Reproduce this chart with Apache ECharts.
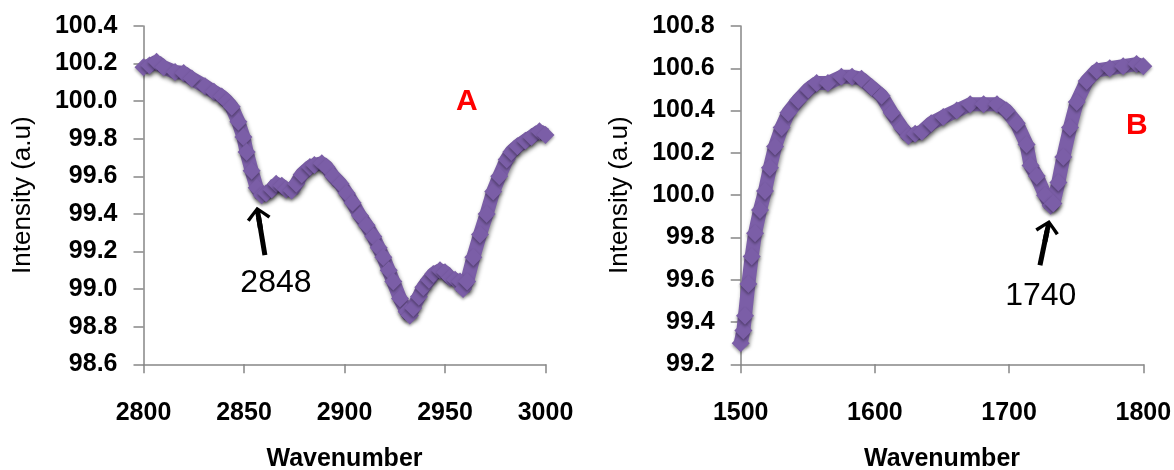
<!DOCTYPE html>
<html>
<head>
<meta charset="utf-8">
<script src="https://cdn.jsdelivr.net/npm/echarts@6/dist/echarts.min.js"></script>
<style>
  html, body { margin: 0; padding: 0; background: #fff; }
  #chart { width: 1174px; height: 470px; }
</style>
</head>
<body>
<div id="chart"></div>
<script>
// ---- Panel A (C-H stretch region) ----
const leftWavenumber = [2800, 2803, 2806.5, 2810, 2815.7, 2820, 2824, 2830.6, 2835, 2838.9, 2841.5, 2843.9,
  2847.2, 2849.7, 2851.3, 2853.8, 2856.3, 2858.8, 2861, 2863.8, 2866, 2868.8, 2871, 2873.7, 2876, 2878.7,
  2882.8, 2885, 2888.7, 2891, 2894.4, 2898, 2901.1, 2904, 2907.7, 2911, 2914.3, 2917, 2919.3, 2922, 2924.3,
  2927.6, 2930.9, 2932.5, 2934.2, 2937, 2939.2, 2942, 2944.2, 2947.5, 2950, 2952.5, 2955, 2957.5, 2959,
  2961, 2964.1, 2967.4, 2970.7, 2974, 2977, 2980.7, 2983, 2986, 2990, 2993, 2997, 3000];
const leftIntensity = [100.18, 100.19, 100.21, 100.18, 100.155, 100.15, 100.12, 100.08, 100.05, 100.025, 100.0, 99.97,
  99.89, 99.81, 99.73, 99.63, 99.54, 99.50, 99.51, 99.53, 99.56, 99.55, 99.53, 99.525, 99.56, 99.61,
  99.65, 99.66, 99.67, 99.65, 99.60, 99.56, 99.51, 99.46, 99.39, 99.34, 99.28, 99.22, 99.17, 99.10, 99.04,
  98.95, 98.88, 98.86, 98.90, 98.96, 99.01, 99.05, 99.08, 99.10, 99.09, 99.06, 99.05, 99.04, 99.00,
  99.04, 99.17, 99.29, 99.40, 99.52, 99.60, 99.69, 99.73, 99.76, 99.79, 99.81, 99.84, 99.82];

// ---- Panel B (C=O region) ----
const rightWavenumber = [1500, 1502, 1503.2, 1505.7, 1508.2, 1510.7, 1514.4, 1518.1, 1521.8, 1525.6, 1530.5,
  1535.5, 1542.9, 1550.4, 1556.6, 1565, 1575, 1583, 1590, 1597.6, 1605, 1612.5, 1620, 1625, 1630, 1635,
  1642, 1651, 1661, 1671, 1681, 1691, 1698, 1705.7, 1713, 1716, 1720.6, 1726.8, 1731, 1733, 1736.7,
  1740.4, 1745.4, 1750.4, 1757.8, 1765.3, 1775, 1785, 1795, 1800];
const rightIntensity = [99.30, 99.36, 99.43, 99.58, 99.71, 99.82, 99.93, 100.02, 100.13, 100.23, 100.32,
  100.39, 100.45, 100.50, 100.53, 100.53, 100.56, 100.56, 100.55, 100.51, 100.47, 100.39, 100.32, 100.28, 100.29, 100.30,
  100.34, 100.37, 100.40, 100.43, 100.43, 100.43, 100.40, 100.34, 100.24, 100.14, 100.09, 100.00, 99.95, 99.96, 100.06,
  100.18, 100.32, 100.44, 100.54, 100.59, 100.60, 100.61, 100.62, 100.61];

// axis ranges [min, max, interval]
const leftXRange = [2800, 3000, 50];
const leftYRange = [98.6, 100.4, 0.2];
const rightXRange = [1500, 1800, 100];
const rightYRange = [99.2, 100.8, 0.2];

// annotations
const peakLabels = ['2848', '1740'];
const panelLetters = ['A', 'B'];
const xAxisTitle = 'Wavenumber';
const yAxisTitle = 'Intensity (a.u)';

const PURPLE = '#7b5ea7';
const AXIS = '#868686';
const FONT = '"Liberation Sans", Arial, sans-serif';
const ARROW = 'path://M0,0 L12,11 L9.5,13.5 L2.5,6.5 L2.5,22 L-2.5,22 L-2.5,6.5 L-9.5,13.5 L-12,11 Z';

function pairs(xs, ys) { return xs.map((x, i) => [x, ys[i]]); }

function xAxis(idx, r) {
  return {
    type: 'value', gridIndex: idx, min: r[0], max: r[1], interval: r[2],
    name: xAxisTitle, nameLocation: 'middle', nameGap: 82,
    nameTextStyle: { fontFamily: FONT, fontWeight: 'bold', fontSize: 25, color: '#000' },
    axisLine: { show: true, onZero: false, lineStyle: { color: AXIS, width: 1.5 } },
    axisTick: { show: true, length: 9, inside: false, lineStyle: { color: AXIS, width: 1.5 } },
    splitLine: { show: false },
    axisLabel: { fontFamily: FONT, fontWeight: 'bold', fontSize: 25, color: '#000', margin: 36,
      formatter: v => String(Math.round(v)) }
  };
}
function yAxis(idx, r) {
  return {
    type: 'value', gridIndex: idx, min: r[0], max: r[1], interval: r[2],
    name: yAxisTitle, nameLocation: 'middle', nameGap: 108, nameRotate: 90,
    nameTextStyle: { fontFamily: FONT, fontSize: 26, color: '#000' },
    axisLine: { show: true, onZero: false, lineStyle: { color: AXIS, width: 1.5 } },
    axisTick: { show: true, length: 10, inside: false, lineStyle: { color: AXIS, width: 1.5 } },
    splitLine: { show: false },
    axisLabel: { fontFamily: FONT, fontWeight: 'bold', fontSize: 25, color: '#000', margin: 26,
      formatter: v => v.toFixed(1) }
  };
}
function spectrum(idx, data, arrow, peakText, letter) {
  return {
    type: 'line', xAxisIndex: idx, yAxisIndex: idx, data: data,
    symbol: 'diamond', symbolSize: 18, showSymbol: true,
    lineStyle: { color: PURPLE, width: 14, shadowColor: 'rgba(0,0,0,0.45)', shadowBlur: 4, shadowOffsetX: 1, shadowOffsetY: 3 },
    itemStyle: { color: PURPLE, shadowColor: 'rgba(0,0,0,0.35)', shadowBlur: 3, shadowOffsetY: 2 },
    z: 2,
    markLine: {
      silent: true, animation: false,
      symbol: ['none', ARROW], symbolSize: [24, 22],
      lineStyle: { color: '#000', width: 5, type: 'solid' },
      label: { show: false },
      data: [[{ coord: arrow[0] }, { coord: arrow[1] }]]
    },
    markPoint: {
      silent: true, animation: false,
      symbol: 'circle', symbolSize: 1, itemStyle: { color: 'rgba(0,0,0,0)' },
      data: [
        { coord: peakText.coord, label: { show: true, position: 'inside', formatter: peakText.text,
            fontFamily: FONT, fontSize: 32, color: '#000' } },
        { coord: letter.coord, label: { show: true, position: 'inside', formatter: letter.text,
            fontFamily: FONT, fontWeight: 'bold', fontSize: 30, color: '#ff0000' } }
      ]
    }
  };
}

const chart = echarts.init(document.getElementById('chart'), null, { renderer: 'canvas' });
chart.setOption({
  animation: false,
  backgroundColor: '#fff',
  grid: [
    { left: 143.5, top: 26, width: 402, height: 338.3, containLabel: false, outerBoundsMode: 'none' },
    { left: 740.7, top: 26, width: 402.6, height: 338.3, containLabel: false, outerBoundsMode: 'none' }
  ],
  xAxis: [xAxis(0, leftXRange), xAxis(1, rightXRange)],
  yAxis: [yAxis(0, leftYRange), yAxis(1, rightYRange)],
  series: [
    spectrum(0, pairs(leftWavenumber, leftIntensity),
      [[2860.4, 99.181], [2857.3, 99.380]],
      { text: peakLabels[0], coord: [2865.9, 99.031] },
      { text: panelLetters[0], coord: [2960.8, 99.997] }),
    spectrum(1, pairs(rightWavenumber, rightIntensity),
      [[1723, 99.669], [1728.3, 99.831]],
      { text: peakLabels[1], coord: [1723.6, 99.523] },
      { text: panelLetters[1], coord: [1795.1, 100.328] })
  ]
});
</script>
</body>
</html>
